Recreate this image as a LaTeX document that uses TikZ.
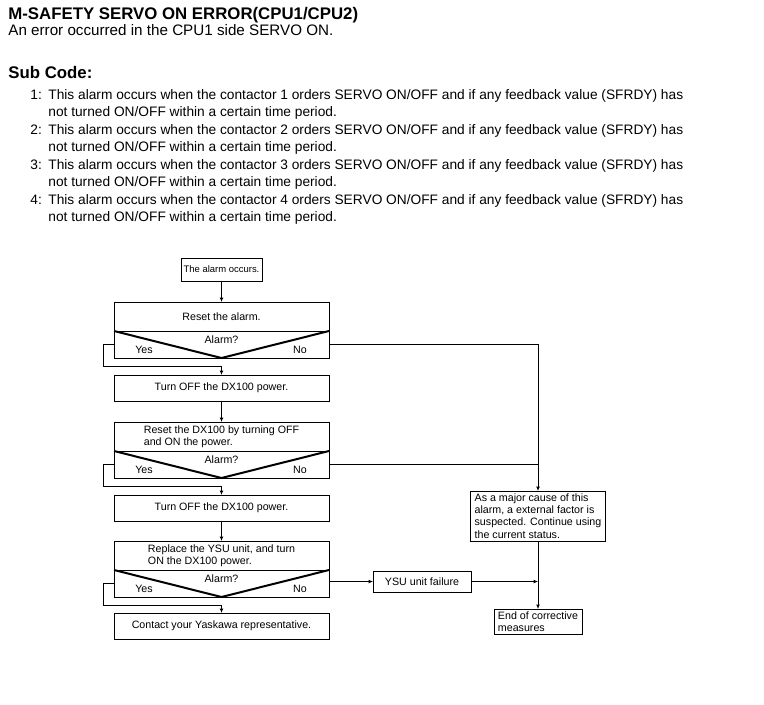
\documentclass[tikz,border=0pt]{standalone}
\usepackage{fontspec}
\setmainfont{Liberation Sans}
\usetikzlibrary{positioning,calc,arrows.meta}

\newcommand{\flowfont}{\fontsize{8}{9.2}\selectfont}

\begin{document}
\begin{tikzpicture}[x=0.75pt, y=-0.75pt, line width=0.6pt,
    >={Latex[length=3.2pt,width=2.8pt]},
    boxnode/.style={rectangle, draw, outer sep=0pt, inner sep=2pt, minimum width=161.25pt, minimum height=19.5pt, font=\flowfont, align=left},
    stepnode/.style={boxnode, minimum height=21.75pt},
    asknode/.style={boxnode, minimum height=20.25pt},
    notenode/.style={rectangle, draw, outer sep=0pt, inner xsep=3pt, inner ysep=2pt, font=\flowfont, align=left},
    lblnode/.style={inner sep=0pt, font=\flowfont},
    headnode/.style={anchor=base west, inner sep=0pt, font=\bfseries\fontsize{12.6}{15}\selectfont},
    itemnode/.style={anchor=base west, inner sep=0pt, font=\fontsize{10.3}{12.75}\selectfont},
    vline/.style={line width=1.5pt}
   ]
   \useasboundingbox (0,0) rectangle (764,704);

   % heading and sub codes
   \node[headnode] (title) at (8,19) {M-SAFETY SERVO ON ERROR(CPU1/CPU2)};
   \node[itemnode, font=\fontsize{11.4}{14}\selectfont] (summary) at (8,35.5) {An error occurred in the CPU1 side SERVO ON.};
   \node[headnode] (subcode) at (8,78) {Sub Code:};
   \foreach \n in {1,...,4} {
     \node[itemnode] (num\n) at (30,{99+35*(\n-1)}) {\n:};
     \node[itemnode] (item\n) at (48,{99+35*(\n-1)}) {This alarm occurs when the contactor {\n} orders SERVO ON/OFF and if any feedback value (SFRDY) has};
     \node[itemnode] (more\n) at (48,{116+35*(\n-1)}) {not turned ON/OFF within a certain time period.};
   }

   % main column
   \node[notenode, align=center, inner xsep=1pt, minimum width=60.75pt, minimum height=17.25pt, font=\fontsize{7.1}{8.5}\selectfont] (occurs) at (221.5,269.5) {The alarm occurs.};
   \node[stepnode]  (reset1)  [below=15.75pt of occurs] {Reset the alarm.};
   \node[asknode]   (ask1)    [below=0pt of reset1]    {};
   \node[boxnode]   (turn1)   [below=12.75pt of ask1]  {Turn OFF the DX100 power.};
   \node[stepnode]  (reset2)  [below=15.75pt of turn1] {Reset the DX100 by turning OFF\\and ON the power.};
   \node[asknode]   (ask2)    [below=0pt of reset2]    {};
   \node[boxnode]   (turn2)   [below=12.75pt of ask2]  {Turn OFF the DX100 power.};
   \node[stepnode]  (replace) [below=15pt of turn2]    {Replace the YSU unit, and turn\\ON the DX100 power.};
   \node[asknode]   (ask3)    [below=0pt of replace]   {};
   \node[boxnode]   (contact) [below=12pt of ask3]     {Contact your Yaskawa representative.};

   % right side
   \node[notenode, align=center, minimum width=73.5pt, minimum height=15.75pt] (ysu) [right=33pt of ask3, yshift=1.5pt] {YSU unit failure};
   \node[notenode, anchor=north] (cause) at (538,491) {As a major cause of this\\alarm, a external factor is\\suspected. Continue using\\the current status.};
   \node[notenode] (finish) [below=51pt of cause] {End of corrective\\measures};

   % decision marks
   \foreach \a in {ask1,ask2,ask3} {
     \draw[vline] (\a.north west) -- (\a.south) -- (\a.north east);
     \node[lblnode] (\a-q)   at ($(\a.north)+(0,9)$)         {Alarm?};
     \node[lblnode] (\a-yes) at ($(\a.north west)+(30,19)$)  {Yes};
     \node[lblnode] (\a-no)  at ($(\a.north east)+(-29,19)$) {No};
   }

  \draw[->] (occurs.south) -- (reset1.north);
  \draw[->] (turn1.south) -- (reset2.north);
  \draw[->] (turn2.south) -- (replace.north);
  \foreach \a/\b in {ask1/turn1, ask2/turn2, ask3/contact}
    \draw[->] (\a.west) -- ++(-11,0) |- ($(\a.south)!0.5!(\b.north)$) -- (\b.north);
  \draw[->] (ask1.east) -| (cause.north);
  \draw (ask2.east) -- (ask2.east -| cause.north);
  \draw[->] (ysu.west -| ask3.east) -- (ysu.west);
  \draw[->] (ysu.east) -- (ysu.east -| cause.south);
  \draw[->] (cause.south) -- (finish.north);
 \end{tikzpicture}
\end{document}
